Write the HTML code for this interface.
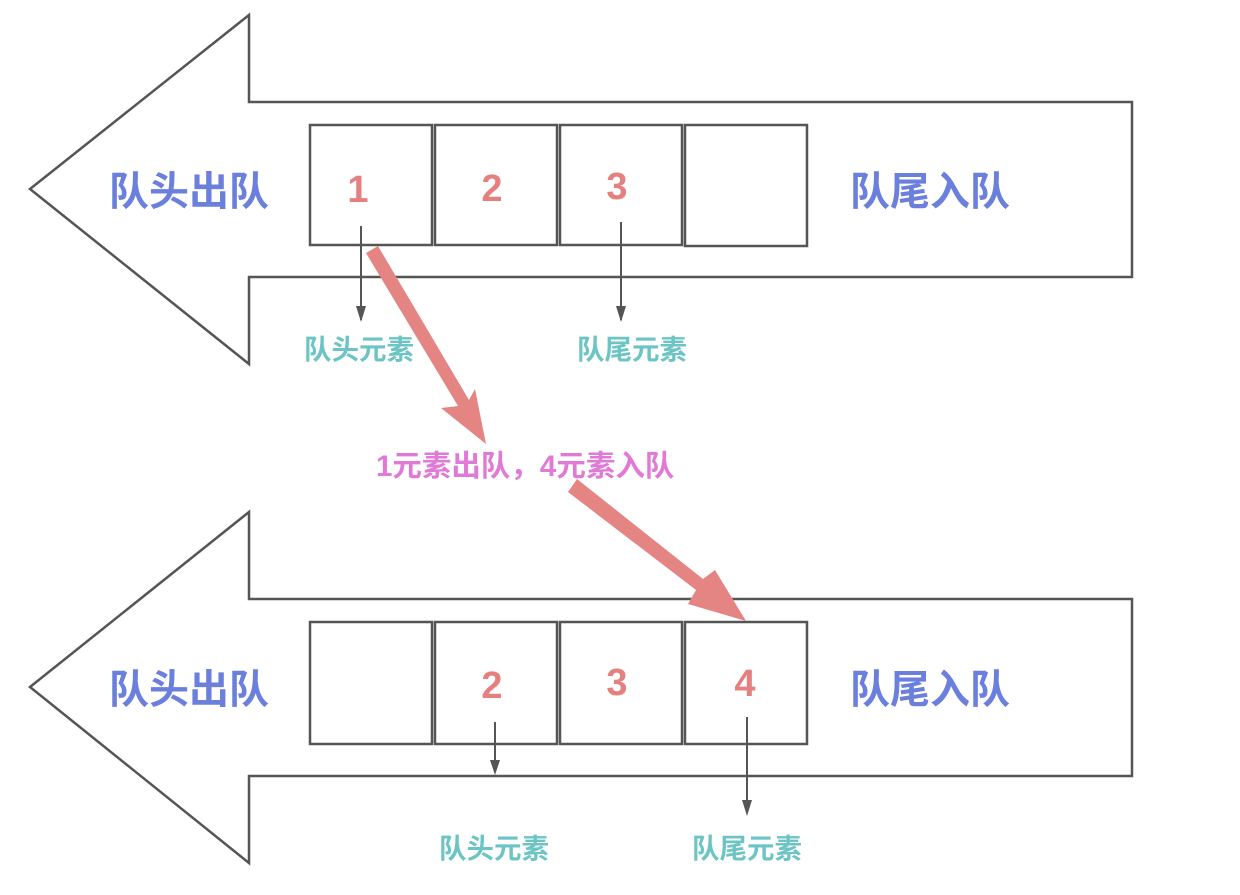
<!DOCTYPE html>
<html><head><meta charset="utf-8"><style>
html,body{margin:0;padding:0;background:#fff;width:1240px;height:895px;overflow:hidden}
text{font-family:"Liberation Sans","Noto Sans CJK SC",sans-serif;font-weight:bold}
</style></head><body>
<svg width="1240" height="895" viewBox="0 0 1240 895" xmlns="http://www.w3.org/2000/svg">
<g fill="none" stroke="#555" stroke-width="2.5">
<polygon points="30,189 249,15 249,102 1132,102 1132,277 249,277 249,364"/>
<polygon points="30,687 249,512 249,599 1132,599 1132,776 249,776 249,863"/>
<rect x="310" y="125" width="122" height="120"/><rect x="435" y="125" width="122" height="120"/>
<rect x="560" y="125" width="122" height="120"/><rect x="685" y="125" width="122" height="121"/>
<rect x="310" y="622" width="122" height="122"/><rect x="435" y="622" width="122" height="122"/>
<rect x="560" y="622" width="122" height="122"/><rect x="685" y="622" width="122" height="122"/>
</g>
<g stroke="#555" stroke-width="2">
<line x1="361" y1="226" x2="361" y2="320"/><path d="M356,306 L366,306 L361,322z" fill="#555" stroke="none"/>
<line x1="621" y1="222" x2="621" y2="320"/><path d="M616,306 L626,306 L621,322z" fill="#555" stroke="none"/>
<line x1="495" y1="722" x2="495" y2="772"/><path d="M490,760 L500,760 L495,775z" fill="#555" stroke="none"/>
<line x1="747" y1="717" x2="747" y2="812"/><path d="M742,800 L752,800 L747,816z" fill="#555" stroke="none"/>
</g>
<g fill="#e48583">
<polygon points="366,253 378,246 469,400 475,389 486,444 441,408 458,406"/>
<polygon points="568,492 577,479 703,579 715,570 746,621 688,604 696,590"/>
</g>
<g fill="#e5807f" font-size="38" text-anchor="middle">
<text x="358" y="202">1</text><text x="492" y="201">2</text><text x="617" y="199">3</text>
<text x="492" y="698">2</text><text x="617" y="695">3</text><text x="745" y="696">4</text>
</g>
<g fill="#6b7fdc" font-size="40">
<text x="109" y="205">队头出队</text><text x="850" y="205">队尾入队</text>
<text x="109" y="703">队头出队</text><text x="850" y="703">队尾入队</text>
</g>
<g fill="#6cc4c4" font-size="27.5">
<text x="304" y="359">队头元素</text><text x="577" y="359">队尾元素</text>
<text x="439" y="858">队头元素</text><text x="692" y="858">队尾元素</text>
</g>
<text x="376" y="476" fill="#e07ad6" font-size="29.5">1元素出队，4元素入队</text>
</svg>
</body></html>
